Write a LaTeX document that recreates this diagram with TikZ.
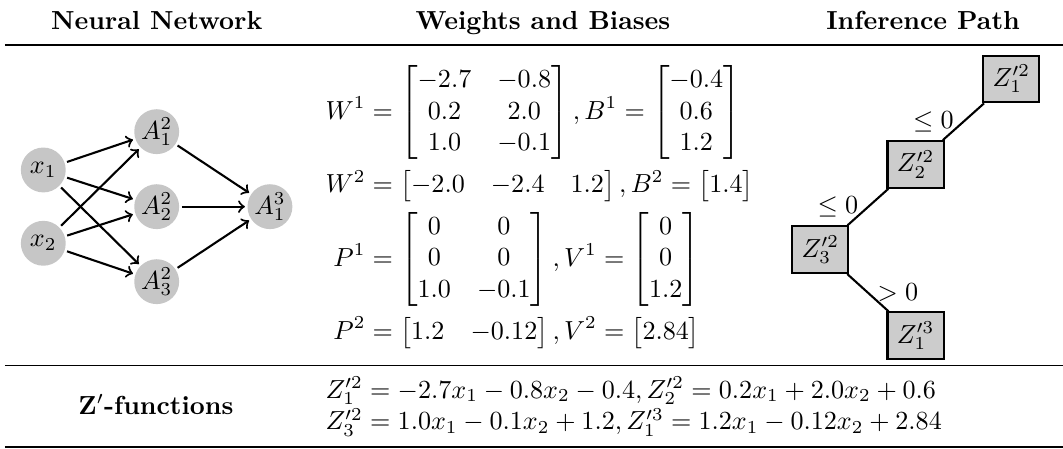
\documentclass[tikz,border=0pt]{standalone}
\usepackage{amsmath}
\usepackage{amssymb}
\begin{document}
\begin{tikzpicture}[
        neuron/.style={circle, fill=gray!45, minimum size=17.2pt, inner sep=0pt, outer sep=1pt},
        zbox/.style={rectangle, draw, thick, fill=gray!40, minimum width=21.5pt, minimum height=17.9pt, inner sep=0pt},
        conn/.style={->, thick},
        branch/.style={thick},
        header/.style={anchor=base, font=\bfseries}
    ]
        \useasboundingbox (0,0) rectangle (14.314,-6.033);

        % Headers and rules
        \node[header] (hnet) at (2.11,-0.404) {Neural Network};
        \node[header] (hwb) at (7.312,-0.404) {Weights and Biases};
        \node[header] (hpath) at (12.43,-0.404) {Inference Path};
        \draw[line width=0.5pt] (0.067,-0.606) -- (14.314,-0.606);
        \draw[line width=0.5pt] (0.067,-4.925) -- (14.314,-4.925);
        \draw[line width=0.8pt] (0.067,-6.015) -- (14.314,-6.015);

        % Neural network
        \node[neuron] (x1) at (0.583,-2.289) {$x_1$};
        \node[neuron] (x2) at (0.583,-3.276) {$x_2$};
        \node[neuron] (a1) at (2.110,-1.773) {$A^2_1$};
        \node[neuron] (a2) at (2.110,-2.783) {$A^2_2$};
        \node[neuron] (a3) at (2.110,-3.793) {$A^2_3$};
        \node[neuron] (out) at (3.635,-2.783) {$A^3_1$};
        \draw[conn] (x1) -- (a1);
        \draw[conn] (x1) -- (a2);
        \draw[conn] (x1) -- (a3);
        \draw[conn] (x2) -- (a1);
        \draw[conn] (x2) -- (a2);
        \draw[conn] (x2) -- (a3);
        \draw[conn] (a1) -- (out);
        \draw[conn] (a2) -- (out);
        \draw[conn] (a3) -- (out);

        % Weights and biases
        \node[anchor=west, inner sep=0pt] (wb) at (4.376,-2.794) {$\begin{aligned}
            W^1 &= \begin{bmatrix} -2.7 & -0.8\\ 0.2 & 2.0\\ 1.0 & -0.1 \end{bmatrix}, B^1 = \begin{bmatrix} -0.4\\ 0.6\\ 1.2 \end{bmatrix}\\
            W^2 &= \begin{bmatrix} -2.0 & -2.4 & 1.2 \end{bmatrix}, B^2 = \begin{bmatrix} 1.4 \end{bmatrix}\\
            P^1 &= \begin{bmatrix} 0 & 0\\ 0 & 0\\ 1.0 & -0.1 \end{bmatrix}, V^1 = \begin{bmatrix} 0\\ 0\\ 1.2 \end{bmatrix}\\
            P^2 &= \begin{bmatrix} 1.2 & -0.12 \end{bmatrix}, V^2 = \begin{bmatrix} 2.84 \end{bmatrix}
        \end{aligned}$};

        % Inference path
        \node[zbox] (z1) at (13.618,-1.064) {$Z^{\prime 2}_1$};
        \node[zbox] (z2) at (12.328,-2.215) {$Z^{\prime 2}_2$};
        \node[zbox] (z3) at (11.046,-3.362) {$Z^{\prime 2}_3$};
        \node[zbox] (z4) at (12.328,-4.521) {$Z^{\prime 3}_1$};
        \draw[branch] (z1) -- (z2) node[midway, left] {$\leq 0$};
        \draw[branch] (z2) -- (z3) node[midway, left] {$\leq 0$};
        \draw[branch] (z3) -- (z4) node[midway, right] {$> 0$};

        % Z'-functions
        \node[header] (zlab) at (2.10,-5.575) {Z$'$-functions};
        \node[anchor=base west, inner sep=0pt] (zf1) at (4.376,-5.36) {$Z^{\prime 2}_1 = -2.7x_1 - 0.8x_2 - 0.4, Z^{\prime 2}_2 = 0.2x_1 + 2.0x_2 + 0.6$};
        \node[anchor=base west, inner sep=0pt] (zf2) at (4.376,-5.79) {$Z^{\prime 2}_3 = 1.0x_1 - 0.1x_2 + 1.2, Z^{\prime 3}_1 = 1.2x_1 - 0.12x_2 + 2.84$};
    \end{tikzpicture}
\end{document}
